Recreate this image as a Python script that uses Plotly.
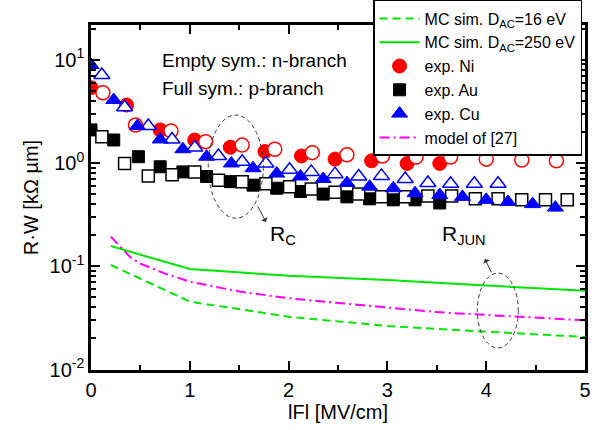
import plotly.graph_objects as go

# ---------------- data ----------------
# MC simulations (|F| in MV/cm, R*W in kOhm um)
mc_x = [0.2, 1.0, 2.0, 3.0, 4.0, 5.0]
mc16_y = [0.103, 0.0455, 0.0325, 0.0264, 0.0233, 0.0207]
mc250_y = [0.157, 0.094, 0.081, 0.0735, 0.065, 0.058]

# model of [27]
model_x = [0.2, 0.3, 0.4, 0.5, 0.75, 1.0, 1.5, 2.0, 2.5, 3.0, 3.5, 4.0, 4.5, 5.0]
model_y = [0.194, 0.152, 0.122, 0.106, 0.085, 0.071, 0.057, 0.049, 0.044, 0.040, 0.036, 0.0338, 0.032, 0.030]

# exp. Ni (full = p-branch, empty = n-branch)
ni_full_x = [0.0, 0.36, 0.70, 1.05, 1.41, 1.76, 2.13, 2.47, 2.84, 3.20, 3.53]
ni_full_y = [5.36, 3.64, 2.09, 1.67, 1.42, 1.29, 1.17, 1.09, 1.05, 0.99, 0.99]
ni_empty_x = [0.12, 0.45, 0.81, 1.16, 1.53, 1.86, 2.24, 2.59, 2.95, 3.29, 3.64, 4.00, 4.36, 4.71]
ni_empty_y = [4.79, 2.33, 2.04, 1.61, 1.49, 1.36, 1.26, 1.20, 1.17, 1.14, 1.14, 1.09, 1.07, 1.05]

# exp. Au
au_full_x = [0.0, 0.23, 0.48, 0.70, 0.93, 1.17, 1.41, 1.64, 1.88, 2.12, 2.35, 2.59, 2.82, 3.06, 3.28, 3.53]
au_full_y = [2.09, 1.67, 1.15, 0.92, 0.82, 0.74, 0.66, 0.61, 0.57, 0.53, 0.50, 0.47, 0.45, 0.44, 0.44, 0.41]
au_empty_x = [0.11, 0.34, 0.58, 0.82, 1.05, 1.29, 1.53, 1.77, 2.01, 2.23, 2.47, 2.71, 2.94, 3.18,
              3.41, 3.65, 3.89, 4.12, 4.36, 4.60, 4.82]
au_empty_y = [1.80, 0.99, 0.75, 0.77, 0.82, 0.68, 0.66, 0.63, 0.59, 0.56, 0.52, 0.50, 0.47, 0.47,
              0.48, 0.48, 0.45, 0.45, 0.44, 0.44, 0.44]

# exp. Cu
cu_full_x = [0.0, 0.23, 0.47, 0.70, 0.93, 1.17, 1.42, 1.64, 1.88, 2.12, 2.35, 2.59, 2.82, 3.06,
             3.28, 3.53, 3.76, 4.00, 4.22, 4.47, 4.70]
cu_full_y = [8.9, 4.07, 2.28, 1.69, 1.36, 1.15, 0.99, 0.89, 0.79, 0.74, 0.70, 0.64, 0.59, 0.57,
             0.51, 0.49, 0.47, 0.44, 0.42, 0.40, 0.37]
cu_empty_x = [0.11, 0.34, 0.58, 0.82, 1.05, 1.29, 1.53, 1.77, 2.01, 2.23, 2.47, 2.71, 2.94, 3.18,
              3.41, 3.64, 3.88, 4.12]
cu_empty_y = [7.1, 3.46, 2.28, 1.69, 1.41, 1.17, 1.03, 0.99, 0.86, 0.82, 0.78, 0.74, 0.75, 0.70,
              0.64, 0.63, 0.63, 0.63]

# tick labels
x_ticks = [0, 1, 2, 3, 4, 5]
y_tickvals = [0.01, 0.1, 1, 10]
y_ticktext = ["10<sup>-2</sup>", "10<sup>-1</sup>", "10<sup>0</sup>", "10<sup>1</sup>"]
y_minor = [m * 10.0 ** e for e in (-2, -1, 0, 1) for m in range(2, 10)]

# ellipses [x0, x1, y0, y1] (data units)
rc_ellipse = [1.187, 1.744, 0.292, 2.91]
rjun_ellipse = [3.91, 4.325, 0.0162, 0.0859]

FONT = "Liberation Sans, Arial, Helvetica, sans-serif"
GREEN = "#00e600"
RED = "#ff0000"
BLUE = "#0000ff"
MAG = "#ff00ff"

fig = go.Figure()

# lines
fig.add_trace(go.Scatter(x=mc_x, y=mc16_y, mode="lines", name="MC sim. D<sub>AC</sub>=16 eV",
                         line=dict(color=GREEN, width=2, dash="8px,5px"), legendrank=1))
fig.add_trace(go.Scatter(x=mc_x, y=mc250_y, mode="lines", name="MC sim. D<sub>AC</sub>=250 eV",
                         line=dict(color=GREEN, width=2), legendrank=2))
fig.add_trace(go.Scatter(x=model_x, y=model_y, mode="lines", name="model of [27]",
                         line=dict(color=MAG, width=2, dash="10px,4px,2px,4px"), legendrank=6))

# Au
fig.add_trace(go.Scatter(x=au_full_x, y=au_full_y, mode="markers", name="exp. Au",
                         marker=dict(symbol="square", size=12, color="black",
                                     line=dict(color="black", width=1)), legendrank=4))
fig.add_trace(go.Scatter(x=au_empty_x, y=au_empty_y, mode="markers", showlegend=False,
                         marker=dict(symbol="square", size=12, color="white",
                                     line=dict(color="black", width=1.5))))
# Ni
fig.add_trace(go.Scatter(x=ni_full_x, y=ni_full_y, mode="markers", name="exp. Ni",
                         marker=dict(symbol="circle", size=14, color=RED,
                                     line=dict(color=RED, width=1)), legendrank=3))
fig.add_trace(go.Scatter(x=ni_empty_x, y=ni_empty_y, mode="markers", showlegend=False,
                         marker=dict(symbol="circle", size=14, color="white",
                                     line=dict(color=RED, width=1.5))))
# Cu
fig.add_trace(go.Scatter(x=cu_empty_x, y=cu_empty_y, mode="markers", showlegend=False,
                         marker=dict(symbol="triangle-up", size=14, color="white",
                                     line=dict(color=BLUE, width=1.5))))
fig.add_trace(go.Scatter(x=cu_full_x, y=cu_full_y, mode="markers", name="exp. Cu",
                         marker=dict(symbol="triangle-up", size=14, color=BLUE,
                                     line=dict(color=BLUE, width=1)), legendrank=5))

# ellipses
for e in (rc_ellipse, rjun_ellipse):
    fig.add_shape(type="circle", xref="x", yref="y", x0=e[0], x1=e[1], y0=e[2], y1=e[3],
                  line=dict(color="#333333", width=1, dash="4px,3px"), layer="above")

annos = [
    dict(x=0.70, y=0.995, text="Empty sym.: n-branch", xanchor="left", yanchor="middle",
         showarrow=False, font=dict(size=19, color="black", family=FONT)),
    dict(x=0.70, y=0.725, text="Full sym.: p-branch", xanchor="left", yanchor="middle",
         showarrow=False, font=dict(size=19, color="black", family=FONT)),
    dict(x=1.79, y=-0.70, text="R<sub>C</sub>", xanchor="left", yanchor="middle",
         showarrow=False, font=dict(size=21, color="black", family=FONT)),
    dict(x=3.53, y=-0.70, text="R<sub>JUN</sub>", xanchor="left", yanchor="middle",
         showarrow=False, font=dict(size=21, color="black", family=FONT)),
    dict(x=1.771, y=-0.570, ax=-9, ay=-17, text="", showarrow=True, arrowhead=1,
         arrowsize=1.2, arrowwidth=1, arrowcolor="#333333"),
    dict(x=3.988, y=-0.928, ax=7, ay=15, text="", showarrow=True, arrowhead=1,
         arrowsize=1.2, arrowwidth=1, arrowcolor="#333333"),
]
for a in annos:
    fig.add_annotation(**a)

axis_common = dict(showline=True, linecolor="black", linewidth=2.5, mirror="ticks",
                   ticks="inside", ticklen=9, tickwidth=2, tickcolor="black",
                   showgrid=False, zeroline=False,
                   tickfont=dict(size=20, color="black", family=FONT))

fig.update_xaxes(range=[0, 5], tickvals=x_ticks,
                 minor=dict(dtick=0.5, ticks="inside", ticklen=5, tickwidth=1.5, tickcolor="black"),
                 title=dict(text="lFl [MV/cm]", font=dict(size=20, color="black", family=FONT), standoff=6),
                 **axis_common)
fig.update_yaxes(type="log", range=[-2.004, 1.336], tickmode="array", tickvals=y_tickvals,
                 ticktext=y_ticktext,
                 minor=dict(tickmode="array", tickvals=y_minor, ticks="inside", ticklen=5,
                            tickwidth=1.5, tickcolor="black"),
                 title=dict(text="R·W [kΩ µm]", font=dict(size=20, color="black", family=FONT), standoff=6),
                 **axis_common)

fig.update_layout(
    width=610, height=430,
    margin=dict(l=91, r=25, t=25, b=60, autoexpand=False),
    paper_bgcolor="white", plot_bgcolor="white",
    font=dict(family=FONT, color="black"),
    legend=dict(x=0.571, y=1.0725, xanchor="left", yanchor="top",
                bgcolor="white", bordercolor="black", borderwidth=1.5,
                font=dict(size=16, color="black", family=FONT),
                tracegroupgap=0, itemwidth=40),
)

fig.write_html("out.html")
